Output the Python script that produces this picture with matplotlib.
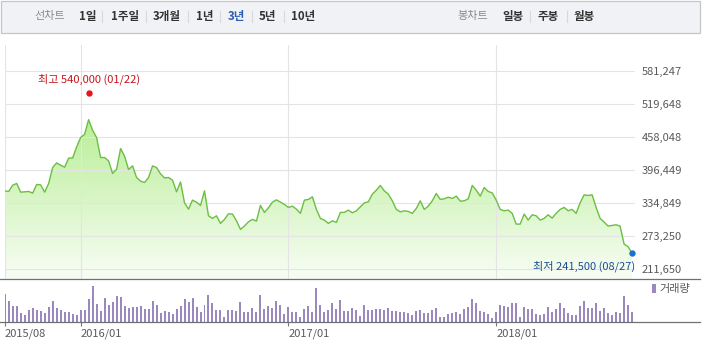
import matplotlib
matplotlib.use('Agg')
import matplotlib.pyplot as plt
import numpy as np
import pandas as pd
from matplotlib.patches import Rectangle
from matplotlib.lines import Line2D

plt.rcParams['font.family'] = ['Noto Sans CJK KR', 'DejaVu Sans']

# ---------------- data ----------------
dates = pd.date_range(end='2018-08-27', periods=158, freq='7D')

price = [
    357600, 356500, 368200, 371400, 355200, 355800, 356500, 353400, 369500, 368800,
    355200, 371400, 401100, 409600, 405400, 401700, 418400, 418900, 439400, 456800,
    462900, 490200, 470400, 456800, 419700, 419700, 413400, 390000, 397900, 436400,
    422100, 397400, 404100, 382500, 375700, 373200, 382500, 404100, 401100, 389200,
    381800, 382500, 377500, 355800, 374300, 335300, 323600, 340400, 336600, 330500,
    357600, 311200, 306400, 311200, 297100, 304500, 314900, 314400, 301900, 285900,
    292100, 300100, 304500, 301400, 330500, 317500, 326100, 336600, 340900, 336600,
    332400, 326800, 329200, 323600, 315700, 340400, 341700, 346500, 323100, 306400,
    303200, 297100, 301900, 298900, 317500, 317500, 321800,
    316800, 320500, 327900, 335300, 337200, 351500, 358900, 367700, 357600, 351500,
    339100, 323100, 318600, 320500, 319400, 315700, 324900, 339100, 323100, 329200,
    339100, 352800, 341700, 342800, 345900, 343500, 347800, 338500, 339100, 342800,
    367700, 358900, 347800, 363900, 356500, 353900, 340400, 323100, 320500, 321800,
    315700, 295800, 295800, 314400, 303200, 313100, 311200, 303200, 306400, 313100,
    306900, 315700, 323100, 326800, 320500, 323100, 315700, 335300, 350200, 349100,
    350200, 326800, 306400, 299500, 292100, 293400, 294500, 292100, 258600, 253600,
    241500,
]

volume = [
    85, 62, 49, 49, 28, 22, 35, 43, 37, 34,
    28, 46, 64, 43, 37, 31, 31, 25, 22, 37,
    37, 70, 109, 55, 34, 73, 52, 61, 79, 76,
    49, 43, 46, 46, 49, 40, 40, 64, 52, 28,
    34, 31, 25, 40, 49, 70, 61, 73, 46, 31,
    52, 82, 58, 37, 37, 16, 37, 37, 34, 61,
    31, 31, 43, 31, 82, 40, 49, 43, 64, 52,
    25, 46, 31, 31, 16, 40, 49, 31, 103, 52,
    31, 37, 58, 40, 67, 34, 34,
    42, 35, 19, 52, 35, 35, 38, 38, 35, 41,
    32, 32, 29, 29, 26, 22, 32, 35, 26, 26,
    35, 41, 16, 16, 23, 26, 29, 23, 38, 44,
    68, 56, 34, 31, 23, 11, 29, 52, 48, 44,
    58, 56, 16, 46, 38, 40, 23, 20, 23, 44,
    29, 38, 58, 43, 28, 20, 20, 49, 62, 41,
    41, 56, 34, 41, 26, 20, 29, 26, 79, 52,
    31,
]

price_ticks = [211650, 273250, 334849, 396449, 458048, 519648, 581247]
price_tick_labels = ['211,650', '273,250', '334,849', '396,449', '458,048', '519,648', '581,247']

high_value = 540000
high_label = '최고 540,000 (01/22)'
low_value = 241500
low_label = '최저 241,500 (08/27)'
volume_label = '거래량'

left_menu = ['1일', '1주일', '3개월', '1년', '3년', '5년', '10년']
left_menu_title = '선차트'
right_menu = ['일봉', '주봉', '월봉']
right_menu_title = '봉차트'
selected_item = '3년'

# ---------------- layout helpers ----------------
W, H = 702, 351
fig = plt.figure(figsize=(W / 100, H / 100), dpi=100)
fig.patch.set_facecolor('white')


def fx(px):
    return px / W


def fy(py):
    return 1 - py / H


n = len(price)
x = np.arange(n)
AX_L, AX_R = 4.7, 635.0
step = 3.996
xmax = (AX_R - AX_L) / step

# price axis pixel mapping
per_px = 1861.0
ybot = price_ticks[0] - (279 - 269.3) * per_px
ytop = price_ticks[-1] + (70.7 - 45) * per_px

# month-start tick indices
month = dates.to_period('M')
tick_idx = [0] + [i for i in range(1, n) if month[i].year != month[i - 1].year]
tick_labels = [dates[i].strftime('%Y/%m') for i in tick_idx]

# ---------------- toolbar ----------------
fig.patches.append(Rectangle((fx(0.8), fy(32.5)), fx(699.2), 31.2 / H,
                             transform=fig.transFigure, facecolor='#f1f2f6',
                             edgecolor='#c6c6c6', lw=0.9))
ty = fy(16.5)
fig.text(fx(50), ty, left_menu_title, ha='center', va='center', fontsize=8,
         color='#8a8a8a')
left_x = [88, 125, 167, 204.5, 236, 267.5, 303]
for lab, cx in zip(left_menu, left_x):
    fig.text(fx(cx), ty, lab, ha='center', va='center', fontsize=8.3,
             fontweight='bold', color='#2d5cb0' if lab == selected_item else '#333333')
fig.text(fx(472.5), ty, right_menu_title, ha='center', va='center', fontsize=8,
         color='#8a8a8a')
right_x = [513, 548, 584]
for lab, cx in zip(right_menu, right_x):
    fig.text(fx(cx), ty, lab, ha='center', va='center', fontsize=8.3,
             fontweight='bold', color='#333333')
for sx in [102, 146, 188, 220, 252, 284, 530, 567]:
    fig.add_artist(Line2D([fx(sx), fx(sx)], [fy(11), fy(22)], color='#d8d8d8', lw=0.8))

# ---------------- price axes ----------------
ax = fig.add_axes([fx(AX_L), fy(279), (AX_R - AX_L) / W, (279 - 45) / H])
for s in ax.spines.values():
    s.set_visible(False)

poly = ax.fill_between(x, price, ybot, color='none', lw=0)
grad = np.linspace(0, 1, 256).reshape(-1, 1, 1)
top_rgb = np.array([185, 238, 150]) / 255
bot_rgb = np.array([248, 253, 245]) / 255
img = bot_rgb + (top_rgb - bot_rgb) * grad
im = ax.imshow(img, extent=[0, n - 1, ybot, 495000], origin='lower',
               aspect='auto', zorder=1, interpolation='bilinear')
im.set_clip_path(poly.get_paths()[0], transform=ax.transData)

ax.plot(x, price, color='#6bbf42', lw=1.0, zorder=3)

hi_idx = int(np.argmax(price))
lo_idx = int(np.argmin(price))
ax.plot([hi_idx], [high_value], 'o', color='#e8141c', ms=4.6, mew=0, zorder=4, clip_on=False)
ax.plot([lo_idx], [low_value], 'o', color='#1f6fd0', ms=4.6, mew=0, zorder=4, clip_on=False)
ax.annotate(high_label, (hi_idx, high_value), xytext=(0, 9.8), textcoords='offset points',
            ha='center', va='center', fontsize=8, color='#c5161d')
ax.annotate(low_label, (lo_idx, low_value), xytext=(2.4, -9.6), textcoords='offset points',
            ha='right', va='center', fontsize=8, color='#1b4f93')

ax.set_xlim(0, xmax)
ax.set_ylim(ybot, ytop)
ax.set_yticks(price_ticks)
ax.set_yticklabels(price_tick_labels)
ax.yaxis.tick_right()
ax.tick_params(axis='y', length=0, pad=4.8, labelsize=8, labelcolor='#5a5a5a')
ax.set_xticks(tick_idx)
ax.tick_params(axis='x', length=0, labelbottom=False)
ax.set_axisbelow(False)
ax.grid(True, color='#e4e4e4', lw=0.8, zorder=2)

# ---------------- volume axes ----------------
ax2 = fig.add_axes([fx(AX_L), fy(322), (AX_R - AX_L) / W, 42 / H])
for s in ax2.spines.values():
    s.set_visible(False)
bars = ax2.bar(x, volume, width=0.5, color='#9b88bf', lw=0)
ax2.set_xlim(0, xmax)
ax2.set_ylim(0, 126)
ax2.set_yticks([])
ax2.set_xticks(tick_idx)
ax2.set_xticklabels(tick_labels)
for lab in ax2.get_xticklabels():
    lab.set_ha('left')
ax2.tick_params(axis='x', length=3, width=0.8, color='#777777', pad=2,
                labelsize=8, labelcolor='#5a5a5a')
ax2.legend([bars], [volume_label], loc='upper left', bbox_to_anchor=(fx(652), fy(284)),
           bbox_transform=fig.transFigure, frameon=False, handlelength=0.35,
           handleheight=0.8, handletextpad=0.3, fontsize=8, borderpad=0,
           borderaxespad=0, labelcolor='#5a5a5a')

# panel separator lines
fig.add_artist(Line2D([0, fx(700)], [fy(279.2)] * 2, color='#707070', lw=0.9))
fig.add_artist(Line2D([0, fx(700)], [fy(322.2)] * 2, color='#707070', lw=0.9))

fig.savefig('out.png', dpi=100, facecolor='white')
